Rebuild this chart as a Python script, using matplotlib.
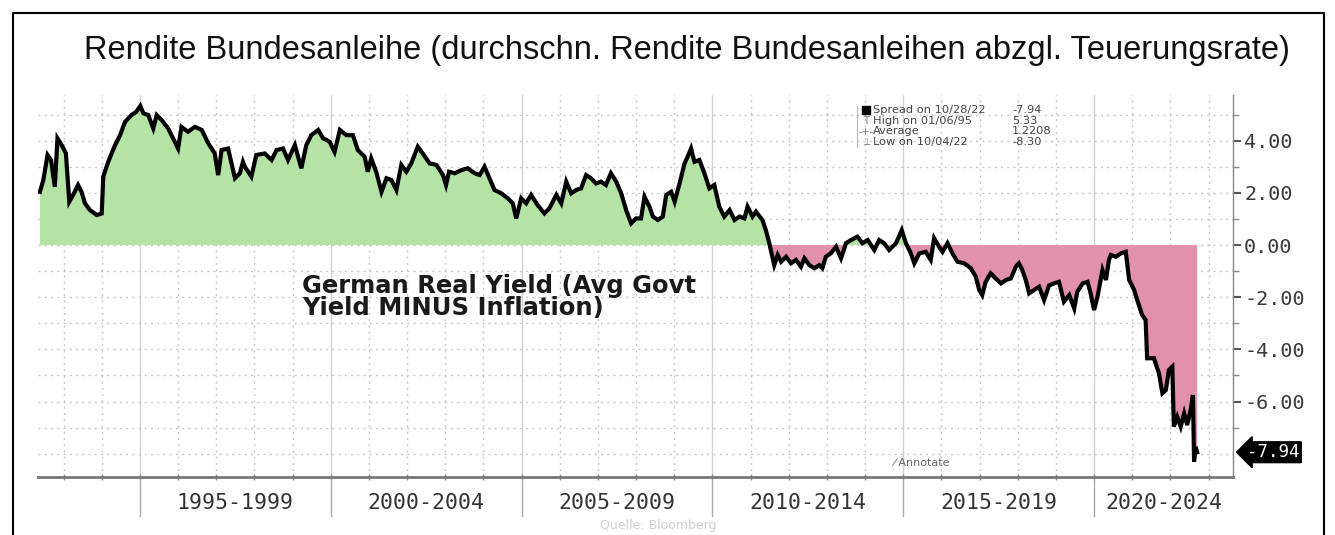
import matplotlib
matplotlib.use("Agg")
import matplotlib.pyplot as plt
import matplotlib.transforms as mtransforms
import numpy as np

# decimal year / real yield (%)
years = [
    1992.38, 1992.47, 1992.58, 1992.67, 1992.77, 1992.84, 1992.95, 1993.06, 1993.15, 1993.25,
    1993.38, 1993.47, 1993.56, 1993.69, 1993.87, 1994.00, 1994.04, 1994.17, 1994.35, 1994.48,
    1994.61, 1994.78, 1994.90, 1995.01, 1995.09, 1995.22, 1995.35, 1995.44, 1995.57, 1995.74,
    1996.00, 1996.09, 1996.26, 1996.44, 1996.62, 1996.79, 1996.96, 1997.05, 1997.14, 1997.31,
    1997.49, 1997.62, 1997.70, 1997.75, 1997.92, 1998.05, 1998.27, 1998.45, 1998.58, 1998.75,
    1998.88, 1999.06, 1999.23, 1999.36, 1999.49, 1999.67, 1999.80, 1999.97, 2000.10, 2000.24,
    2000.41, 2000.58, 2000.71, 2000.89, 2000.97, 2001.06, 2001.19, 2001.33, 2001.46, 2001.59,
    2001.72, 2001.85, 2001.98, 2002.11, 2002.28, 2002.41, 2002.59, 2002.77, 2002.94, 2003.02,
    2003.10, 2003.25, 2003.42, 2003.59, 2003.77, 2003.90, 2004.03, 2004.16, 2004.29, 2004.47,
    2004.64, 2004.77, 2004.86, 2004.99, 2005.12, 2005.25, 2005.42, 2005.60, 2005.73, 2005.91,
    2006.04, 2006.17, 2006.30, 2006.43, 2006.56, 2006.69, 2006.82, 2006.95, 2007.08, 2007.21,
    2007.34, 2007.48, 2007.61, 2007.74, 2007.87, 2008.00, 2008.13, 2008.22, 2008.35, 2008.44,
    2008.57, 2008.70, 2008.79, 2008.92, 2009.01, 2009.14, 2009.27, 2009.35, 2009.44, 2009.53,
    2009.66, 2009.79, 2009.92, 2010.05, 2010.18, 2010.31, 2010.45, 2010.58, 2010.71, 2010.84,
    2010.92, 2011.05, 2011.14, 2011.31, 2011.40, 2011.49, 2011.62, 2011.71, 2011.80, 2011.93,
    2012.06, 2012.19, 2012.32, 2012.41, 2012.54, 2012.67, 2012.80, 2012.88, 2012.97, 2013.10,
    2013.24, 2013.37, 2013.50, 2013.63, 2013.80, 2013.93, 2014.07, 2014.24, 2014.37, 2014.50,
    2014.63, 2014.81, 2014.96, 2015.07, 2015.20, 2015.29, 2015.42, 2015.59, 2015.72, 2015.81,
    2015.94, 2016.03, 2016.16, 2016.29, 2016.42, 2016.60, 2016.77, 2016.90, 2016.99, 2017.07,
    2017.16, 2017.29, 2017.42, 2017.56, 2017.69, 2017.82, 2017.95, 2018.03, 2018.12, 2018.21,
    2018.30, 2018.43, 2018.56, 2018.69, 2018.82, 2018.95, 2019.08, 2019.21, 2019.35, 2019.48,
    2019.56, 2019.70, 2019.83, 2019.91, 2020.00, 2020.09, 2020.22, 2020.31, 2020.39, 2020.44,
    2020.57, 2020.70, 2020.83, 2020.92, 2021.05, 2021.13, 2021.26, 2021.35, 2021.39, 2021.57,
    2021.70, 2021.79, 2021.88, 2021.96, 2022.05, 2022.09, 2022.18, 2022.27, 2022.36, 2022.44,
    2022.53, 2022.59, 2022.62, 2022.66, 2022.70,
]
real_yield = [
    2.04, 2.49, 3.45, 3.26, 2.23, 4.09, 3.83, 3.52, 1.66, 1.92,
    2.30, 2.04, 1.60, 1.34, 1.15, 1.21, 2.62, 3.19, 3.83, 4.21,
    4.72, 4.98, 5.10, 5.33, 5.05, 4.98, 4.47, 4.98, 4.79, 4.47,
    3.70, 4.53, 4.34, 4.53, 4.41, 3.90, 3.51, 2.68, 3.64, 3.70,
    2.56, 2.75, 3.19, 3.00, 2.62, 3.45, 3.51, 3.26, 3.64, 3.70,
    3.26, 3.83, 2.94, 3.83, 4.21, 4.41, 4.09, 3.96, 3.57, 4.41,
    4.21, 4.21, 3.64, 3.38, 2.81, 3.32, 2.81, 2.04, 2.56, 2.49,
    2.11, 3.07, 2.81, 3.13, 3.77, 3.51, 3.13, 3.07, 2.68, 2.30,
    2.81, 2.75, 2.87, 2.94, 2.75, 2.68, 3.00, 2.56, 2.11, 1.98,
    1.79, 1.60, 1.02, 1.79, 1.60, 1.92, 1.53, 1.21, 1.41, 1.92,
    1.60, 2.43, 1.98, 2.11, 2.17, 2.68, 2.56, 2.36, 2.43, 2.30,
    2.75, 2.43, 1.98, 1.34, 0.83, 1.02, 1.02, 1.85, 1.47, 1.09,
    0.96, 1.09, 1.92, 2.04, 1.66, 2.36, 3.13, 3.38, 3.70, 3.19,
    3.26, 2.75, 2.17, 2.30, 1.47, 1.09, 1.34, 0.96, 1.09, 1.02,
    1.47, 1.09, 1.28, 0.96, 0.57, 0.07, -0.77, -0.38, -0.64, -0.45,
    -0.70, -0.57, -0.83, -0.51, -0.77, -0.89, -0.77, -0.89, -0.45, -0.32,
    -0.07, -0.51, 0.07, 0.19, 0.32, 0.07, 0.19, -0.19, 0.19, 0.07,
    -0.19, 0.07, 0.57, 0.07, -0.32, -0.70, -0.32, -0.26, -0.57, 0.26,
    -0.07, -0.26, 0.07, -0.32, -0.64, -0.70, -0.89, -1.21, -1.72, -1.92,
    -1.41, -1.08, -1.28, -1.47, -1.34, -1.28, -0.83, -0.70, -0.96, -1.34,
    -1.85, -1.72, -1.60, -2.11, -1.55, -1.47, -1.41, -2.17, -1.92, -2.43,
    -1.79, -1.47, -1.41, -1.85, -2.49, -1.98, -0.96, -1.34, -0.57, -0.38,
    -0.45, -0.32, -0.26, -1.34, -1.72, -2.11, -2.68, -2.87, -4.34, -4.34,
    -4.92, -5.68, -5.56, -4.79, -4.66, -6.96, -6.58, -6.96, -6.45, -6.90,
    -6.32, -5.75, -8.30, -7.73, -7.94,
]

period_starts = [1995, 2000, 2005, 2010, 2015, 2020]
period_labels = ["1995-1999", "2000-2004", "2005-2009", "2010-2014", "2015-2019", "2020-2024"]
y_ticks = [4, 2, 0, -2, -4, -6]

legend_rows = [("Spread on 10/28/22", "-7.94"), ("High on 01/06/95", "5.33"),
               ("Average", "1.2208"), ("Low on 10/04/22", "-8.30")]
last_value = -7.94

W, H = 1335, 535
fig = plt.figure(figsize=(W / 100, H / 100), dpi=100)
fig.patch.set_facecolor("white")

def fx(px):
    return px / W

def fy(py):
    return 1 - py / H

ax = fig.add_axes([fx(38), fy(477), fx(1233) - fx(38), fy(95) - fy(477)])
xmin, xmax = 1992.33, 2023.64
ax.set_xlim(xmin, xmax)
ax.set_ylim(-8.89, 5.75)

x = np.array(years)
y = np.array(real_yield)

# grid
for yr in range(1993, 2024):
    if yr in period_starts:
        ax.axvline(yr, color="#d0d0d0", lw=1.0, zorder=0)
    else:
        ax.axvline(yr, color="#c8c8c8", lw=1.0, ls=(0, (1.5, 3)), zorder=0)
for v in range(-8, 6):
    ax.axhline(v, color="#c8c8c8", lw=1.0, ls=(0, (1.5, 3)), zorder=0)

ax.fill_between(x, y, 0, where=y >= 0, interpolate=True, color="#b5e2a5", lw=0, zorder=1)
ax.fill_between(x, y, 0, where=y <= 0, interpolate=True, color="#e291ac", lw=0, zorder=1)
ax.plot(x, y, color="black", lw=3.0, solid_joinstyle="miter", zorder=3)

# axes styling
for s in ["top", "left"]:
    ax.spines[s].set_visible(False)
ax.spines["bottom"].set_color("#777777")
ax.spines["bottom"].set_linewidth(2.0)
ax.spines["right"].set_color("#888888")
ax.spines["right"].set_linewidth(1.0)

ax.yaxis.tick_right()
ax.set_yticks(y_ticks)
ax.set_yticklabels(["%.2f" % v for v in y_ticks], fontfamily="DejaVu Sans Mono",
                   fontsize=14.5, color="#3a3a3a")
ax.set_yticks([5, 3, 1, -1, -3, -5, -7], minor=True)
ax.tick_params(axis="y", which="major", length=6, width=1.5, color="#555555", pad=2)
ax.tick_params(axis="y", which="minor", length=4, width=1.0, color="#888888")

ax.set_xticks(range(1993, 2024), minor=True)
ax.set_xticks([])
ax.tick_params(axis="x", which="minor", length=4, width=1.0, color="#888888", direction="inout")

# period dividers and labels below the axis
trans = mtransforms.blended_transform_factory(ax.transData, fig.transFigure)
for yr in period_starts:
    ax.plot([yr, yr], [fy(477), fy(516)], transform=trans, color="#aaaaaa", lw=1.0,
            clip_on=False)
bounds = period_starts + [xmax]
for i, lab in enumerate(period_labels):
    mid = (bounds[i] + min(bounds[i + 1], xmax)) / 2
    ax.text(mid, fy(503), lab, transform=trans, ha="center", va="center",
            fontfamily="DejaVu Sans Mono", fontsize=15.5, color="#333333", clip_on=False)

# last value tag
tagtrans = mtransforms.blended_transform_factory(ax.transAxes, ax.transData)
ax.text(1.012, last_value, "%.2f" % last_value, transform=tagtrans, ha="left", va="center",
        fontfamily="DejaVu Sans Mono", fontsize=12.5, color="white",
        bbox=dict(boxstyle="larrow,pad=0.08", fc="black", ec="black"), clip_on=False)

# title
fig.text(fx(84), fy(50), "Rendite Bundesanleihe (durchschn. Rendite Bundesanleihen abzgl. Teuerungsrate)",
         ha="left", va="center", fontfamily="Liberation Sans", fontsize=23.5, color="#111111")

# annotation
fig.text(fx(302), fy(297), "German Real Yield (Avg Govt\nYield MINUS Inflation)",
         ha="left", va="center", fontfamily="DejaVu Sans", fontweight="bold",
         fontsize=17.5, color="#1a1a1a", linespacing=0.92)

# legend box
for i, (name, val) in enumerate(legend_rows):
    yy = fy(110 + i * 10.7)
    fig.text(fx(873), yy, name, ha="left", va="center", fontfamily="DejaVu Sans",
             fontsize=8.2, color="#444444")
    fig.text(fx(1012), yy, val, ha="left", va="center", fontfamily="DejaVu Sans",
             fontsize=8.2, color="#444444")
fig.patches.append(plt.Rectangle((fx(862), fy(114)), fx(8), fy(106) - fy(114),
                                 transform=fig.transFigure, color="black"))
fig.text(fx(866), fy(121), "T", ha="center", va="center", fontsize=7, color="#777777")
fig.text(fx(866), fy(131.5), "-+-", ha="center", va="center", fontsize=7, color="#777777")
fig.text(fx(866), fy(142), "\u22a5", ha="center", va="center", fontsize=7, color="#777777")
fig.add_artist(plt.Line2D([fx(857), fx(857)], [fy(106), fy(147)], color="#bbbbbb", lw=0.8))

fig.text(fx(893), fy(463), "\u2044 Annotate", ha="left", va="center", fontfamily="DejaVu Sans",
         fontsize=8, color="#666666")

fig.text(fx(600), fy(526), "Quelle: Bloomberg", ha="left", va="center",
         fontfamily="DejaVu Sans", fontsize=9, color="#d0d0d0")

# outer frame
fig.add_artist(plt.Line2D([fx(13), fx(13), fx(1324), fx(1324)], [fy(535), fy(13), fy(13), fy(535)],
                          color="black", lw=1.5))

fig.savefig("out.png", dpi=100)
